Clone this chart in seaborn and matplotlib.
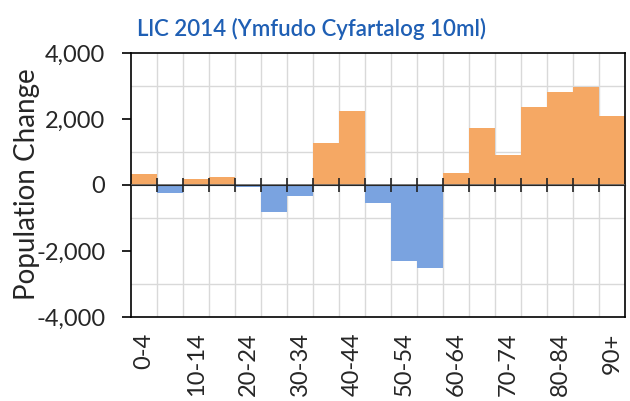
import numpy as np
import pandas as pd
import seaborn as sns
import matplotlib
matplotlib.use("Agg")
import matplotlib.pyplot as plt

ages = ["0-4", "5-9", "10-14", "15-19", "20-24", "25-29", "30-34", "35-39",
        "40-44", "45-49", "50-54", "55-59", "60-64", "65-69", "70-74",
        "75-79", "80-84", "85-89", "90+"]
change = [330, -230, 170, 230, -70, -810, -320, 1260, 2250, -555, -2300,
          -2525, 350, 1740, 910, 2350, 2830, 2980, 2090]

df = pd.DataFrame({"age": ages, "change": change})
df["sign"] = np.where(df["change"] >= 0, "pos", "neg")

sns.set_style("white")
plt.rcParams["font.family"] = ["Lato", "DejaVu Sans"]

fig = plt.figure(figsize=(6.3, 4.01), dpi=100)
ax = fig.add_axes([0.208, 0.2095, 0.784, 0.6585])

sns.barplot(data=df, x="age", y="change", hue="sign", order=ages,
            palette={"pos": "#F5A864", "neg": "#7AA3E0"}, dodge=False,
            width=1, saturation=1, legend=False, ax=ax, zorder=2,
            edgecolor="none", linewidth=0)

ax.set_xlim(-0.5, len(ages) - 0.5)
ax.set_ylim(-4000, 4000)

# grid: boundaries vertically, every 1000 horizontally
ax.set_xticks(np.arange(0.5, len(ages) - 0.5, 1), minor=True)
ax.set_yticks(np.arange(-4000, 4001, 1000), minor=True)
ax.grid(which="minor", color="#d9d9d9", lw=1, zorder=0)
ax.set_axisbelow(True)

ax.set_xticks(range(0, len(ages), 2))
ax.set_xticklabels(ages[::2], rotation=90, fontsize=17)
ax.set_yticks(np.arange(-4000, 4001, 2000))
ax.set_yticklabels([f"{v:,}" for v in range(-4000, 4001, 2000)], fontsize=17)
ax.tick_params(axis="x", which="both", length=0, pad=11)
ax.tick_params(axis="y", which="major", left=True, length=6.5, width=1.2,
               pad=12, color="black")
ax.tick_params(axis="y", which="minor", left=False, length=0)

for s in ax.spines.values():
    s.set_color("black")
    s.set_linewidth(1.2)

# zero axis line with ticks at category boundaries
ax.axhline(0, color="#666666", lw=1.2, zorder=3)
zero = ax.secondary_xaxis(0.5)
zero.set_xticks(np.arange(0.5, len(ages) - 0.5, 1))
zero.set_xticklabels([])
zero.tick_params(bottom=True, length=5, width=1.2, color="#222222",
                 direction="out")
zero.spines["bottom"].set_visible(False)
zero.set_zorder(4)

ax.set_xlabel("")
ax.set_ylabel("")
fig.text(0.043, 0.542, "Population Change", rotation=90, ha="center",
         va="center", fontsize=20)
fig.text(0.494, 0.928, "LlC 2014 (Ymfudo Cyfartalog 10ml)", ha="center",
         va="center", fontsize=16, fontweight="semibold", color="#1F5FB4")

fig.savefig("out.png", dpi=100)
